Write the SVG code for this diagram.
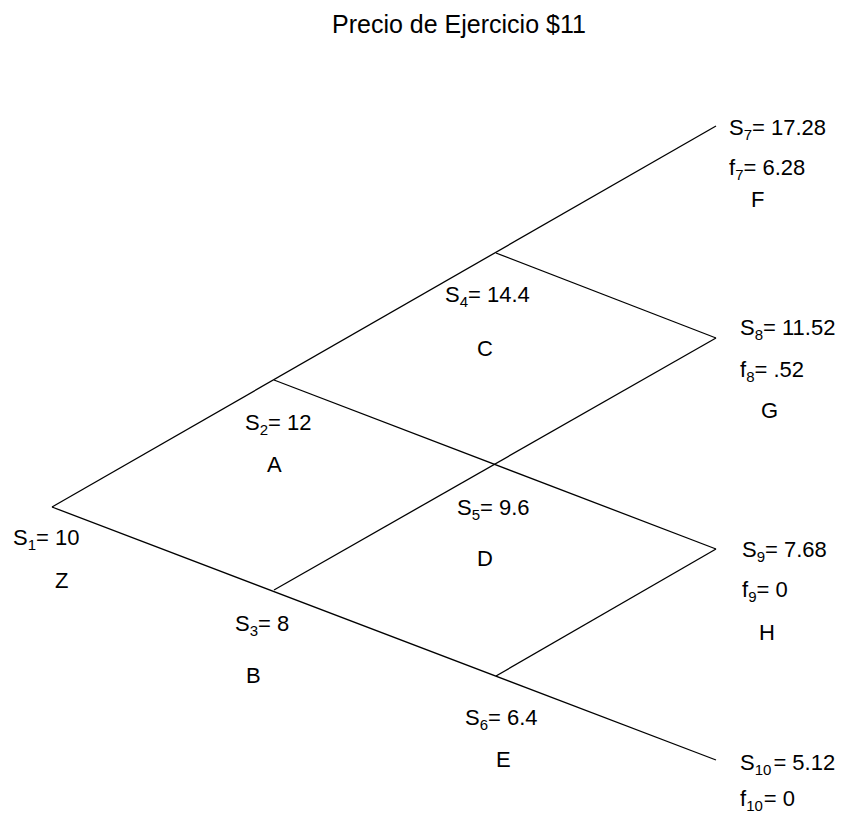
<svg xmlns="http://www.w3.org/2000/svg" width="841" height="816" viewBox="0 0 841 816">
<style>
text{font-family:"Liberation Sans",Arial,sans-serif;font-size:22px;fill:#000}
.title{font-size:25px}
.sub{font-size:15px}
line{stroke:#000;stroke-width:1.3;fill:none}
</style>
<rect width="841" height="816" fill="#fff"/>
<text class="title" x="332" y="33">Precio de Ejercicio $11</text>
<g id="connectors">
<line x1="52" y1="507" x2="716" y2="126"/>
<line x1="52" y1="507" x2="716" y2="760"/>
<line x1="274" y1="380" x2="716" y2="549"/>
<line x1="274" y1="590" x2="716" y2="338"/>
<line x1="496" y1="253" x2="716" y2="338"/>
<line x1="496" y1="676" x2="716" y2="549"/>
</g>
<g id="node-Z">
<text x="13" y="545">S<tspan class="sub" dy="5">1</tspan><tspan dy="-5">= 10</tspan></text>
<text x="55" y="588">Z</text>
</g>
<g id="node-A">
<text x="245" y="430">S<tspan class="sub" dy="5">2</tspan><tspan dy="-5">= 12</tspan></text>
<text x="267" y="472">A</text>
</g>
<g id="node-B">
<text x="235" y="631">S<tspan class="sub" dy="5">3</tspan><tspan dy="-5">= 8</tspan></text>
<text x="246" y="683">B</text>
</g>
<g id="node-C">
<text x="445" y="302">S<tspan class="sub" dy="5">4</tspan><tspan dy="-5">= 14.4</tspan></text>
<text x="477" y="356">C</text>
</g>
<g id="node-D">
<text x="457" y="515">S<tspan class="sub" dy="5">5</tspan><tspan dy="-5">= 9.6</tspan></text>
<text x="477" y="566">D</text>
</g>
<g id="node-E">
<text x="465" y="725">S<tspan class="sub" dy="5">6</tspan><tspan dy="-5">=  6.4</tspan></text>
<text x="496" y="767">E</text>
</g>
<g id="node-F">
<text x="729" y="135">S<tspan class="sub" dy="5">7</tspan><tspan dy="-5">= 17.28</tspan></text>
<text x="729" y="175">f<tspan class="sub" dy="5">7</tspan><tspan dy="-5">= 6.28</tspan></text>
<text x="751" y="207">F</text>
</g>
<g id="node-G">
<text x="740" y="335">S<tspan class="sub" dy="5">8</tspan><tspan dy="-5">= 11.52</tspan></text>
<text x="740" y="377">f<tspan class="sub" dy="5">8</tspan><tspan dy="-5">=  .52</tspan></text>
<text x="761" y="418">G</text>
</g>
<g id="node-H">
<text x="742" y="557">S<tspan class="sub" dy="5">9</tspan><tspan dy="-5">= 7.68</tspan></text>
<text x="742" y="597">f<tspan class="sub" dy="5">9</tspan><tspan dy="-5">= 0</tspan></text>
<text x="759" y="640">H</text>
</g>
<g id="node-S10">
<text x="740" y="770">S<tspan class="sub" dy="5">10</tspan><tspan dy="-5" dx="2">=  5.12</tspan></text>
<text x="740" y="806">f<tspan class="sub" dy="5">10</tspan><tspan dy="-5" dx="1">= 0</tspan></text>
</g>
</svg>
